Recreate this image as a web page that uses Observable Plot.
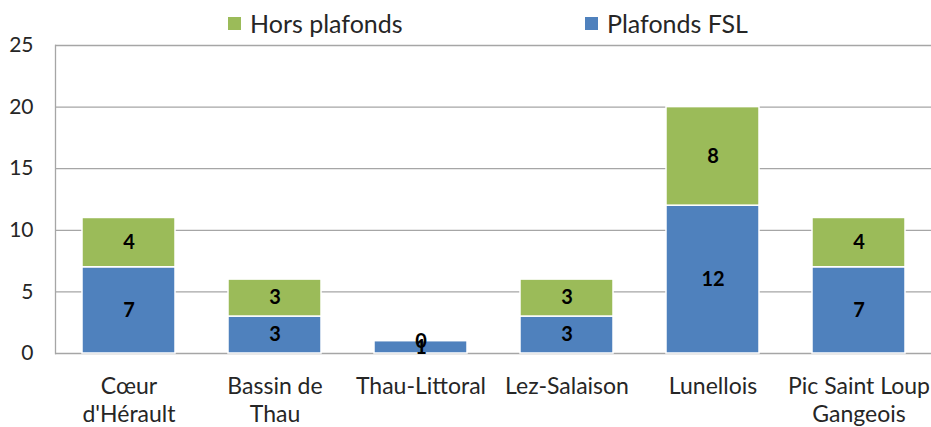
<!DOCTYPE html>
<html><head><meta charset="utf-8">
<script src="https://cdn.jsdelivr.net/npm/d3@7"></script>
<script src="https://cdn.jsdelivr.net/npm/@observablehq/plot@0.6"></script>
<style>
body{margin:0;background:#fff;}
#wrap{position:relative;width:931px;height:427px;}
#legend{position:absolute;top:0;left:0;width:931px;height:44px;font-family:Lato,sans-serif;font-size:25px;color:#262626;z-index:2;}
.item{position:absolute;top:9px;height:28px;display:flex;align-items:center;white-space:nowrap;}
.sw{width:13px;height:13px;margin-right:9px;}
</style></head><body>
<div id="wrap"><div id="legend"></div></div>
<script>
const categories = ["Cœur\nd'Hérault", "Bassin de\nThau", "Thau-Littoral", "Lez-Salaison", "Lunellois", "Pic Saint Loup\nGangeois"];
const series = ["Plafonds FSL", "Hors plafonds"];
const plafondsFSL = [7, 3, 1, 3, 12, 7];
const horsPlafonds = [4, 3, 0, 3, 8, 4];
const yTicks = [0, 5, 10, 15, 20, 25];
const colors = ["#4f81bd", "#9bbb59"];
const legendItems = [
  {label: "Hors plafonds", color: "#9bbb59", left: 228},
  {label: "Plafonds FSL", color: "#4f81bd", left: 585}
];

const data = categories.flatMap((c, i) => [
  {cat: c, series: series[0], value: plafondsFSL[i]},
  {cat: c, series: series[1], value: horsPlafonds[i]}
]);

const chart = Plot.plot({
  width: 931, height: 427,
  marginLeft: 55, marginRight: 0, marginTop: 45, marginBottom: 74,
  style: {fontFamily: "Lato, sans-serif", fontSize: "21px", color: "#262626", overflow: "visible", background: "white"},
  x: {domain: categories, paddingInner: 0.365, paddingOuter: 0.1825, label: null},
  y: {domain: [0, 25], label: null},
  color: {domain: series, range: colors},
  marks: [
    Plot.gridY(yTicks, {stroke: "#a6a6a6", strokeOpacity: 1, strokeWidth: 1.3}),
    Plot.frame({anchor: "left", stroke: "#a6a6a6", strokeWidth: 1.3}),
    Plot.barY(data, {x: "cat", y: "value", fill: "series", order: series, stroke: "white", strokeWidth: 1.5}),
    Plot.text(data, Plot.stackY({x: "cat", y: "value", z: "series", order: series, text: d => String(d.value), fontWeight: "bold", fontSize: 20, fill: "black"})),
    Plot.axisY(yTicks, {tickSize: 0, tickPadding: 22, fontSize: 21, fill: "#262626"}),
    Plot.axisX({tickSize: 0, tickPadding: 21, lineAnchor: "top", lineHeight: 1.2, fontSize: 23, fill: "#262626"})
  ]
});
document.getElementById("wrap").appendChild(chart);

const legend = document.getElementById("legend");
for (const it of legendItems) {
  const d = document.createElement("div");
  d.className = "item";
  d.style.left = it.left + "px";
  d.innerHTML = `<span class="sw" style="background:${it.color}"></span><span>${it.label}</span>`;
  legend.appendChild(d);
}
</script>
</body></html>
